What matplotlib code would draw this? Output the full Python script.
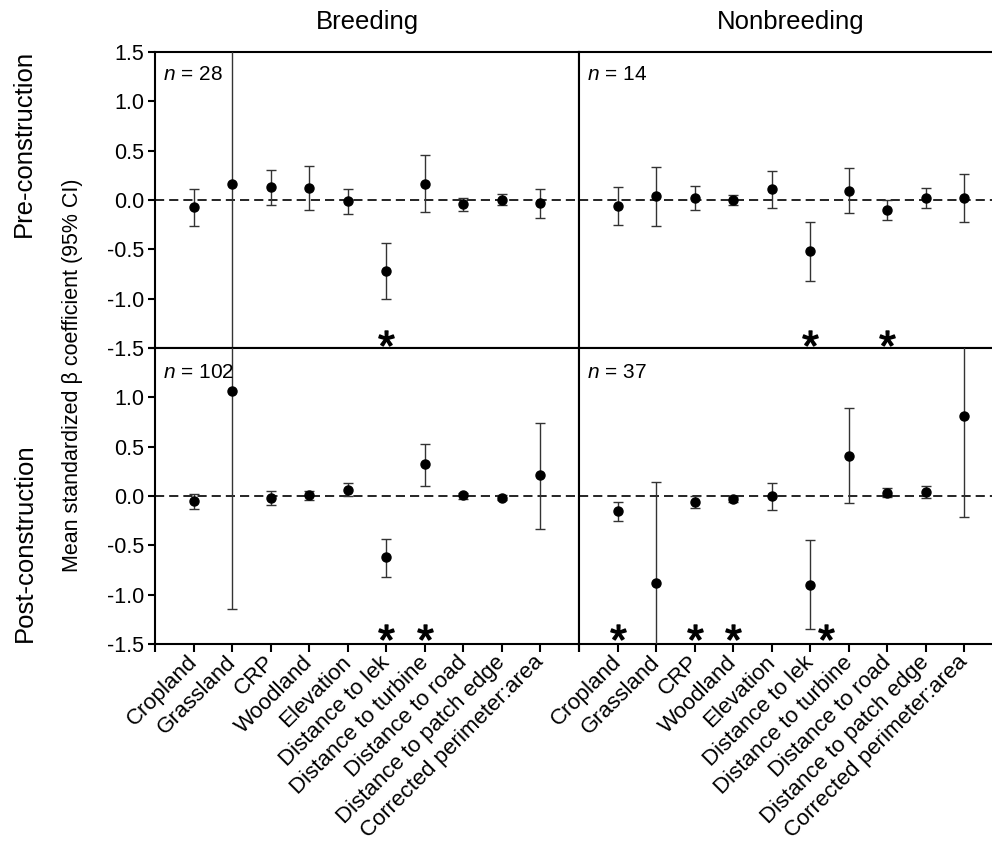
import matplotlib
matplotlib.use("Agg")
import matplotlib.pyplot as plt
from matplotlib.transforms import ScaledTranslation
import numpy as np

plt.rcParams['font.family'] = ['Liberation Sans', 'DejaVu Sans']
plt.rcParams['axes.unicode_minus'] = False
plt.rcParams['mathtext.fontset'] = 'custom'
plt.rcParams['mathtext.rm'] = 'Liberation Sans'
plt.rcParams['mathtext.it'] = 'Liberation Sans:italic'

categories = ["Cropland", "Grassland", "CRP", "Woodland", "Elevation",
              "Distance to lek", "Distance to turbine", "Distance to road",
              "Distance to patch edge", "Corrected perimeter:area"]
yticks = [-1.5, -1.0, -0.5, 0.0, 0.5, 1.0, 1.5]
col_titles = ["Breeding", "Nonbreeding"]
row_titles = ["Pre-construction", "Post-construction"]
ylabel = "Mean standardized \u03b2 coefficient (95% CI)"

# Pre-construction, breeding (n = 28)
breeding_pre_mean = [-0.07, 0.16, 0.13, 0.12, -0.01, -0.72, 0.16, -0.04, 0.00, -0.03]
breeding_pre_lo = [-0.26, -2.00, -0.05, -0.10, -0.14, -1.00, -0.12, -0.11, -0.05, -0.18]
breeding_pre_hi = [0.11, 2.00, 0.30, 0.34, 0.11, -0.44, 0.45, 0.02, 0.06, 0.11]
breeding_pre_sig = [6]
breeding_pre_n = 28

# Pre-construction, nonbreeding (n = 14)
nonbreeding_pre_mean = [-0.06, 0.04, 0.02, 0.00, 0.11, -0.52, 0.09, -0.10, 0.02, 0.02]
nonbreeding_pre_lo = [-0.25, -0.26, -0.10, -0.05, -0.08, -0.82, -0.13, -0.20, -0.08, -0.22]
nonbreeding_pre_hi = [0.13, 0.33, 0.14, 0.05, 0.29, -0.22, 0.32, 0.00, 0.12, 0.26]
nonbreeding_pre_sig = [6, 8]
nonbreeding_pre_n = 14

# Post-construction, breeding (n = 102)
breeding_post_mean = [-0.05, 1.06, -0.02, 0.01, 0.06, -0.62, 0.32, 0.01, -0.02, 0.21]
breeding_post_lo = [-0.13, -1.14, -0.09, -0.04, 0.00, -0.82, 0.10, -0.03, -0.04, -0.33]
breeding_post_hi = [0.02, 2.00, 0.05, 0.05, 0.13, -0.43, 0.53, 0.03, 0.01, 0.74]
breeding_post_sig = [6, 7]
breeding_post_n = 102

# Post-construction, nonbreeding (n = 37)
nonbreeding_post_mean = [-0.15, -0.88, -0.06, -0.03, 0.00, -0.90, 0.41, 0.03, 0.04, 0.81]
nonbreeding_post_lo = [-0.25, -2.00, -0.12, -0.06, -0.14, -1.35, -0.07, -0.01, -0.02, -0.21]
nonbreeding_post_hi = [-0.06, 0.14, 0.00, -0.01, 0.13, -0.44, 0.89, 0.08, 0.10, 2.00]
nonbreeding_post_sig = [1, 3, 4, 6.4]
nonbreeding_post_n = 37

panels = [
    [(breeding_pre_mean, breeding_pre_lo, breeding_pre_hi, breeding_pre_sig, breeding_pre_n),
     (nonbreeding_pre_mean, nonbreeding_pre_lo, nonbreeding_pre_hi, nonbreeding_pre_sig, nonbreeding_pre_n)],
    [(breeding_post_mean, breeding_post_lo, breeding_post_hi, breeding_post_sig, breeding_post_n),
     (nonbreeding_post_mean, nonbreeding_post_lo, nonbreeding_post_hi, nonbreeding_post_sig, nonbreeding_post_n)],
]

W, H = 992, 841
fig = plt.figure(figsize=(W / 100, H / 100), dpi=100)

x_left = [155, 579]
panel_w = 424
y_top = [51.7, 347.8]
panel_h = 296.5

star_y = [-1.40, -1.38]
x = np.arange(1, len(categories) + 1)
label_shift = ScaledTranslation(-7 / 100, 5 / 100, fig.dpi_scale_trans)

for r in range(2):
    for c in range(2):
        mean, lo, hi, sig, n = panels[r][c]
        ax = fig.add_axes([x_left[c] / W, 1 - (y_top[r] + panel_h) / H,
                           panel_w / W, panel_h / H])
        ax.set_xlim(0, 11)
        ax.set_ylim(-1.5, 1.5)
        for s in ax.spines.values():
            s.set_linewidth(1.5)
        ax.axhline(0, color='black', lw=1.2, ls=(0, (5.5, 3)), zorder=1)
        mean = np.array(mean)
        yerr = np.vstack([mean - np.array(lo), np.array(hi) - mean])
        ax.errorbar(x, mean, yerr=yerr, fmt='o', color='black', ms=6.5,
                    ecolor='#333333', elinewidth=1.0, capsize=3.3, capthick=1.0,
                    zorder=3)
        ax.plot(sig, [star_y[r]] * len(sig), linestyle='none',
                marker=r'$\mathrm{*}$', ms=11, color='black', zorder=4)
        ax.text(0.02 if c == 0 else 0.018, 0.955 if r == 0 else 0.95,
                r'$\mathit{n}$ = %d' % n, transform=ax.transAxes,
                fontsize=15, ha='left', va='top')
        # y axis
        if c == 0:
            ax.set_yticks(yticks)
            labels = ['%.1f' % v for v in yticks]
            if r == 1:
                labels[-1] = ''
            ax.set_yticklabels(labels, fontsize=15.5)
            ax.tick_params(axis='y', direction='out', length=5, width=1.5, pad=3)
        else:
            ax.set_yticks([])
        # x axis
        if r == 1:
            ax.set_xticks(np.arange(0, 12))
            ax.set_xticklabels([''] + categories + [''], rotation=45,
                               ha='right', rotation_mode='anchor', fontsize=16)
            ax.tick_params(axis='x', direction='out', length=6, width=1.5, pad=3)
            for lab in ax.get_xticklabels():
                lab.set_transform(lab.get_transform() + label_shift)
        else:
            ax.set_xticks([])
        if r == 0:
            ax.set_title(col_titles[c], fontsize=18.5, pad=16)

fig.text(24 / W, 1 - 143 / H, row_titles[0], rotation=90, fontsize=18.5,
         ha='center', va='center')
fig.text(25 / W, 1 - 543 / H, row_titles[1], rotation=90, fontsize=18.5,
         ha='center', va='center')
fig.text(73 / W, 1 - 375 / H, ylabel, rotation=90, fontsize=15.5,
         ha='center', va='center')

fig.savefig('out.png', dpi=100)
